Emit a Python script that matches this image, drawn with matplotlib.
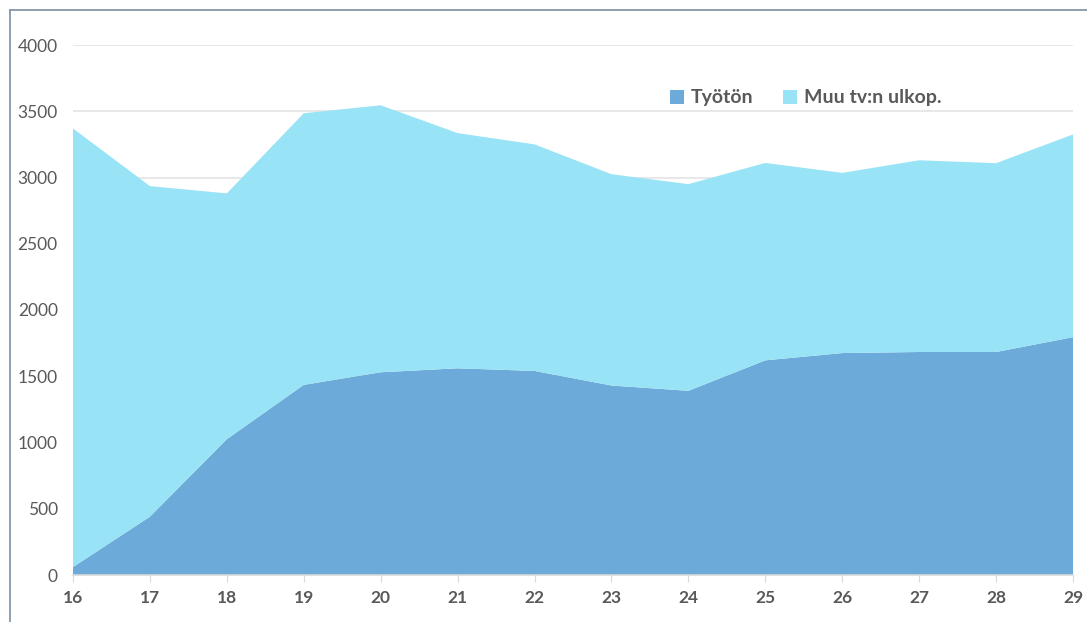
import matplotlib
matplotlib.use("Agg")
import matplotlib.pyplot as plt
from matplotlib.patches import Patch
from matplotlib.lines import Line2D

ages = [16, 17, 18, 19, 20, 21, 22, 23, 24, 25, 26, 27, 28, 29]
tyoton = [60, 440, 1025, 1435, 1530, 1560, 1540, 1430, 1390, 1620, 1675, 1683, 1683, 1795]
muu = [3310, 2495, 1855, 2050, 2015, 1775, 1710, 1595, 1560, 1490, 1360, 1447, 1425, 1530]
labels = ["Työtön", "Muu tv:n ulkop."]
yticks = [0, 500, 1000, 1500, 2000, 2500, 3000, 3500, 4000]

c_dark = "#6BAAD9"
c_light = "#98E3F6"

plt.rcParams['font.family'] = ['Lato', 'DejaVu Sans']

fig = plt.figure(figsize=(10.87, 6.22), dpi=100)
ax = fig.add_axes([73/1087, 1-575/622, 1000/1087, 530/622])

ax.stackplot(ages, tyoton, muu, colors=[c_dark, c_light], linewidth=0)

ax.set_xlim(16, 29)
ax.set_ylim(0, 4000)
ax.set_yticks(yticks)
ax.set_xticks(ages)
ax.set_yticklabels([str(v) for v in yticks], fontsize=12.5, color="#595959")
ax.set_xticklabels([str(a) for a in ages], fontsize=12.5, fontweight="bold", color="#595959")
ax.yaxis.grid(True, color="#E4E4E4", linewidth=1.2)
ax.set_axisbelow(True)
ax.tick_params(axis='y', length=0, pad=11)
ax.tick_params(axis='x', length=5, color="#D9D9D9", pad=6)
for s in ["top", "right", "left"]:
    ax.spines[s].set_visible(False)
ax.spines["bottom"].set_color("#D9D9D9")
ax.spines["bottom"].set_linewidth(1.2)

handles = [Patch(facecolor=c_dark, edgecolor='none'), Patch(facecolor=c_light, edgecolor='none')]
leg = fig.legend(handles, labels, loc="center left", bbox_to_anchor=(652/1087, 1-98/622),
                 ncol=2, frameon=False, handlelength=0.75, handleheight=0.75,
                 handletextpad=0.35, columnspacing=1.5,
                 prop={'size': 14, 'weight': 'bold'})
for t in leg.get_texts():
    t.set_color("#595959")

# figure frame (left and top)
fig.add_artist(Line2D([10/1087, 10/1087], [0, 1-10/622], transform=fig.transFigure, color="#8497A8", linewidth=1.3))
fig.add_artist(Line2D([10/1087, 1], [1-10/622, 1-10/622], transform=fig.transFigure, color="#8497A8", linewidth=1.3))

fig.savefig("out.png", dpi=100)
